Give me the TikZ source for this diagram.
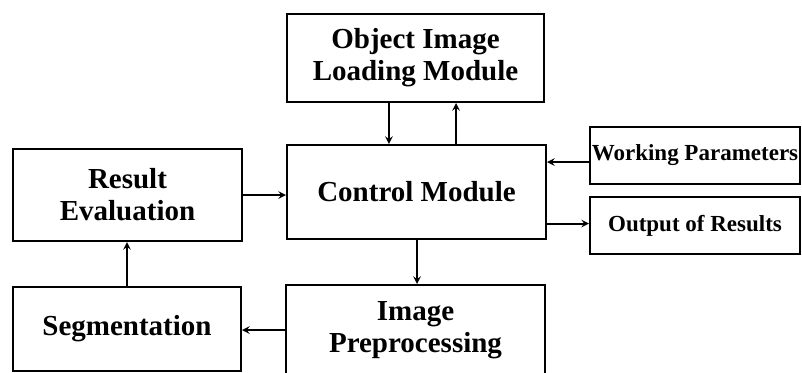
\documentclass[tikz,border=0pt]{standalone}
\usepackage{fontspec}
\setmainfont{Liberation Serif}
\usetikzlibrary{arrows}
\tikzstyle{module} = [rectangle, draw=black, line width=1.5pt, inner sep=0pt, align=center, font=\fontsize{21.75}{24}\selectfont\bfseries]
\tikzstyle{smallmodule} = [module, font=\fontsize{17.25}{20}\selectfont\bfseries]
\tikzstyle{arrow} = [line width=1.5pt,->,>=stealth]

\begin{document}
\begin{tikzpicture}[x=0.75pt, y=-0.75pt]
		\useasboundingbox (0,0) rectangle (802,372);
		\node (load) [module, minimum width=192.75pt, minimum height=66pt] at (415.5,58) {Object Image\\Loading Module};
		\node (ctrl) [module, minimum width=194.25pt, minimum height=70.5pt] at (416.5,192) {Control Module};
		\node (eval) [module, minimum width=171.75pt, minimum height=69pt] at (127.5,195) {Result\\Evaluation};
		\node (seg) [module, minimum width=171pt, minimum height=63pt] at (127,329) {Segmentation};
		\node (pre) [module, minimum width=194.25pt, minimum height=67.5pt] at (415.5,330) {Image\\Preprocessing};
		\node (wp) [smallmodule, minimum width=157.5pt, minimum height=42.75pt] at (695,155.5) {Working Parameters};
		\node (out) [smallmodule, minimum width=157.5pt, minimum height=42.75pt] at (695,225.5) {Output of Results};
		\draw [arrow] ([xshift=-19.9pt]load.south) -- ([xshift=-19.9pt]load.south |- ctrl.north);
		\draw [arrow] ([xshift=30.4pt]load.south |- ctrl.north) -- ([xshift=30.4pt]load.south);
		\draw [arrow] (eval.east) -- (eval.east -| ctrl.west);
		\draw [arrow] ([yshift=-4.9pt]wp.west) -- ([yshift=-4.9pt]wp.west -| ctrl.east);
		\draw [arrow] ([yshift=1.5pt]ctrl.east |- out.west) -- ([yshift=1.5pt]out.west);
		\draw [arrow] ([xshift=0.4pt]ctrl.south) -- ([xshift=0.4pt]ctrl.south |- pre.north);
		\draw [arrow] (pre.west) -- (pre.west -| seg.east);
		\draw [arrow] (seg.north) -- (seg.north |- eval.south);
	\end{tikzpicture}
\end{document}
